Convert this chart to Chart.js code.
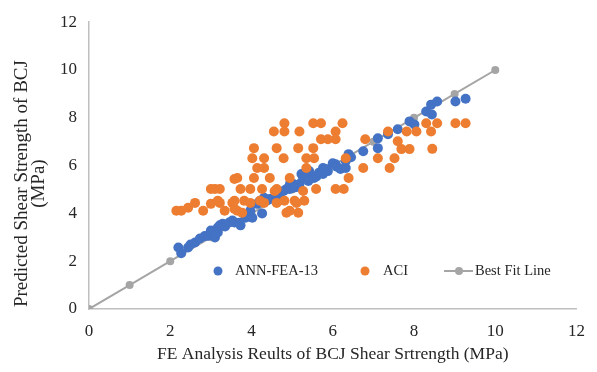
<!DOCTYPE html>
<html>
<head>
<meta charset="utf-8">
<script src="https://cdn.jsdelivr.net/npm/chart.js@4.4.1/dist/chart.umd.min.js"></script>
<style>
  html, body { margin: 0; padding: 0; background: #ffffff; }
  #wrap { width: 597px; height: 372px; }
</style>
</head>
<body>
<div id="wrap"><canvas id="c" width="597" height="372"></canvas></div>
<script>
// ANN-FEA-13 predictions (x: FE analysis, y: predicted), MPa
const annX = [2.27,2.20,2.44,2.50,2.61,2.73,2.85,2.93,3.00,3.05,3.10,3.17,3.17,3.29,3.22,3.35,3.45,3.53,3.58,3.70,3.73,3.85,3.90,4.02,3.97,4.26,4.14,4.21,4.31,4.40,4.45,4.55,4.62,4.69,4.79,4.86,4.94,4.95,5.03,5.03,5.10,5.18,5.23,5.27,5.35,5.40,5.42,5.54,5.60,5.66,5.76,5.76,5.88,5.83,6.00,6.07,6.10,6.19,6.32,6.32,6.39,6.45,6.75,7.11,7.11,7.36,7.60,7.89,8.01,8.30,8.44,8.42,8.57,9.02,9.27];
const annY = [2.33,2.57,2.57,2.70,2.78,2.95,3.05,3.07,3.28,3.10,2.99,3.20,3.41,3.57,3.50,3.45,3.62,3.70,3.62,3.61,3.50,3.82,3.95,3.82,4.11,4.00,4.40,4.53,4.65,4.55,4.60,4.65,4.80,4.65,4.94,5.02,5.02,5.25,5.07,5.23,5.10,5.23,5.65,5.48,5.55,5.36,5.77,5.48,5.55,5.70,5.65,5.90,5.77,5.86,6.10,6.06,5.95,5.86,5.90,6.19,6.48,6.35,6.60,6.73,7.14,7.31,7.52,7.85,7.72,8.26,8.14,8.55,8.68,8.68,8.80];

// ACI code predictions (x: FE analysis, y: predicted), MPa
const aciX = [2.15,2.27,2.44,2.61,2.81,3.00,3.22,3.34,3.53,3.65,3.77,3.58,3.17,3.58,3.82,3.97,4.21,
  3.00,3.10,3.22,3.73,3.97,4.26,3.58,3.65,4.06,4.45,4.94,
  4.06,4.02,4.31,4.14,4.31,
  4.55,4.81,4.81,4.62,4.79,
  5.18,5.52,5.71,6.24,6.07,5.71,5.88,6.07,
  5.15,5.52,5.35,5.54,6.32,5.35,
  4.62,4.57,5.27,5.59,6.07,6.27,6.39,
  4.31,4.62,4.81,5.06,5.30,5.11,4.86,5.15,4.94,
  6.80,6.75,7.11,7.40,7.52,7.36,7.60,7.69,7.89,7.82,8.06,8.30,8.42,8.57,8.45,9.02,9.27];
const aciY = [4.11,4.11,4.24,4.44,4.11,4.40,4.44,4.11,4.44,4.11,4.03,4.19,4.53,4.53,4.53,4.44,4.53,
  5.02,5.02,5.02,5.02,5.02,5.02,5.44,5.48,5.48,5.48,5.48,
  6.73,6.31,6.31,5.90,5.90,
  7.43,7.77,7.43,6.73,6.31,
  7.43,7.77,7.77,7.77,7.43,7.10,7.10,7.10,
  6.73,6.73,6.31,6.31,6.31,5.90,
  5.02,4.94,4.94,5.02,5.02,5.02,5.48,
  4.44,4.44,4.53,4.53,4.53,4.44,4.03,4.03,4.11,
  7.10,5.90,6.31,5.90,6.31,7.43,7.02,6.69,6.69,7.43,7.43,7.77,7.43,7.77,6.70,7.77,7.77];

// Best fit (1:1) line
const fitX = [0,1,2,3,4,5,6,7,8,9,10];
const fitY = [0,1,2,3,4,5,6,7,8,9,10];

const axisMin = 0, axisMax = 12, axisStep = 2;
const seriesNames = ['ANN-FEA-13', 'ACI', 'Best Fit Line'];
const xTitle = 'FE Analysis Reults of BCJ Shear Srtrength (MPa)';
const yTitle = ['Predicted Shear Strength of BCJ', '(MPa)'];

const SERIF = "'Liberation Serif', 'Times New Roman', serif";
const TEXT = '#262626';
const toPts = (xs, ys) => xs.map((x, i) => ({ x: x, y: ys[i] }));

// y-axis title, drawn beside the axis
const yTitlePlugin = {
  id: 'yTitle',
  afterDraw(chart) {
    const ctx = chart.ctx, a = chart.chartArea;
    ctx.save();
    ctx.font = '19px ' + SERIF;
    ctx.fillStyle = TEXT;
    ctx.textAlign = 'center';
    ctx.textBaseline = 'middle';
    const cy = (a.top + a.bottom) / 2 + 18;
    yTitle.forEach((line, i) => {
      ctx.save();
      ctx.translate(22 + i * 17, cy);
      ctx.rotate(-Math.PI / 2);
      ctx.fillText(line, 0, 0);
      ctx.restore();
    });
    ctx.restore();
  }
};

// legend row placed inside the plot area
const innerLegend = {
  id: 'innerLegend',
  afterDraw(chart) {
    const ctx = chart.ctx;
    const y = 271;
    const ds = chart.data.datasets;
    ctx.save();
    ctx.font = '14.5px ' + SERIF;
    ctx.fillStyle = TEXT;
    ctx.textBaseline = 'middle';
    ctx.textAlign = 'left';
    // scatter series
    [[218, 235], [365, 383]].forEach(([mx, tx], i) => {
      ctx.beginPath();
      ctx.arc(mx, y, 4.5, 0, Math.PI * 2);
      ctx.fillStyle = ds[i].backgroundColor;
      ctx.fill();
      ctx.fillStyle = TEXT;
      ctx.fillText(ds[i].label, tx, y);
    });
    // line series
    ctx.strokeStyle = ds[2].borderColor;
    ctx.lineWidth = 2;
    ctx.beginPath();
    ctx.moveTo(444, y); ctx.lineTo(473, y); ctx.stroke();
    ctx.beginPath();
    ctx.arc(459, y, 4, 0, Math.PI * 2);
    ctx.fillStyle = ds[2].backgroundColor;
    ctx.fill();
    ctx.fillStyle = TEXT;
    ctx.fillText(ds[2].label, 475, y);
    ctx.restore();
  }
};

new Chart(document.getElementById('c'), {
  type: 'scatter',
  data: {
    datasets: [
      {
        label: seriesNames[0],
        data: toPts(annX, annY),
        backgroundColor: '#4472C4',
        borderColor: '#4472C4',
        pointRadius: 5,
        pointBorderWidth: 0,
        order: 2
      },
      {
        label: seriesNames[1],
        data: toPts(aciX, aciY),
        backgroundColor: '#ED7D31',
        borderColor: '#ED7D31',
        pointRadius: 5,
        pointBorderWidth: 0,
        order: 1
      },
      {
        label: seriesNames[2],
        data: toPts(fitX, fitY),
        showLine: true,
        backgroundColor: '#A5A5A5',
        borderColor: '#A5A5A5',
        borderWidth: 2,
        pointRadius: 4,
        pointBorderWidth: 0,
        order: 3
      }
    ]
  },
  options: {
    responsive: false,
    animation: false,
    layout: { padding: { left: 0, right: 12, top: 20, bottom: 0 } },
    plugins: {
      legend: { display: false },
      tooltip: { enabled: false }
    },
    scales: {
      x: {
        type: 'linear',
        min: axisMin, max: axisMax,
        grid: { display: false, drawTicks: false },
        border: { display: true, color: '#BFBFBF', width: 1.5 },
        ticks: { stepSize: axisStep, padding: 12, color: TEXT, font: { family: SERIF, size: 17 } },
        title: { display: true, text: xTitle, color: TEXT, font: { family: SERIF, size: 17.5 }, padding: { top: 0, bottom: 7 } },
        afterFit(scale) { scale.height = 63; }
      },
      y: {
        type: 'linear',
        min: axisMin, max: axisMax,
        grid: { display: false, drawTicks: false },
        border: { display: true, color: '#BFBFBF', width: 1.5 },
        ticks: { stepSize: axisStep, padding: 12, color: TEXT, font: { family: SERIF, size: 17 } },
        afterFit(scale) { scale.width = 89; }
      }
    }
  },
  plugins: [yTitlePlugin, innerLegend]
});
</script>
</body>
</html>
